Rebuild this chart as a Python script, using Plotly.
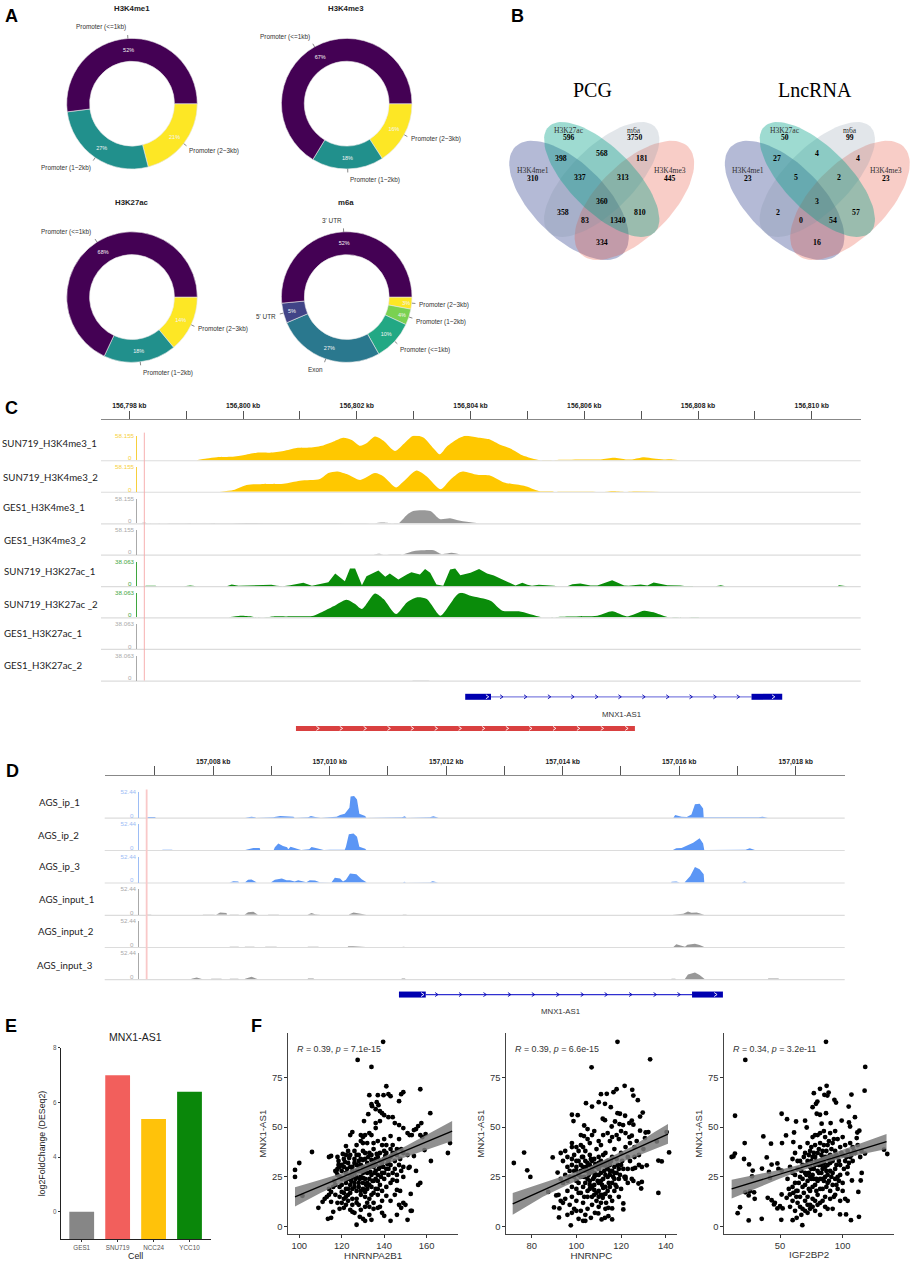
import math
import plotly.graph_objects as go

W, H = 913, 1261
SANS = 'Liberation Sans'
SERIF = 'Liberation Serif'


def fx(p):
    return p / W


def fy(p):
    return 1 - p / H


# ---- panel A: donuts (clockwise from 3 o'clock) ----
PIE_TITLES = ['H3K4me1', 'H3K4me3', 'H3K27ac', 'm6a']
PROM_LABELS = ['Promoter (2~3kb)', 'Promoter (1~2kb)', 'Promoter (<=1kb)']
M6A_LABELS = ['Promoter (2~3kb)', 'Promoter (1~2kb)', 'Promoter (<=1kb)', 'Exon', "5' UTR", "3' UTR"]
ME1_PCT = [21, 27, 52]
ME3_PCT = [16, 18, 67]
AC_PCT = [14, 18, 68]
M6A_PCT = [3, 4, 10, 27, 5, 52]
PROM_COLORS = ['#FDE725', '#21908C', '#440154']
M6A_COLORS = ['#FDE725', '#7AD151', '#22A884', '#2A788E', '#414487', '#440154']

# ---- panel B: venn counts ----
VENN_SETS = ['H3K27ac', 'm6a', 'H3K4me1', 'H3K4me3']
PCG_SET_COUNTS = [596, 3750, 310, 445]
LNC_SET_COUNTS = [50, 99, 23, 23]
PCG_OVERLAPS = [398, 568, 181, 337, 313, 360, 358, 810, 83, 1340, 334]
LNC_OVERLAPS = [27, 4, 4, 5, 2, 3, 2, 57, 0, 54, 16]

# ---- panel C: signal tracks, (kb after 156,798, signal) ----
C_ORIGIN = 156798
C_TICKS = [156798 + i for i in range(13)]
C_TICKTEXT = ['156,798 kb', '', '156,800 kb', '', '156,802 kb', '', '156,804 kb', '', '156,806 kb', '',
              '156,808 kb', '', '156,810 kb']
C_NAMES = ['SUN719_H3K4me3_1', 'SUN719_H3K4me3_2', 'GES1_H3K4me3_1', 'GES1_H3K4me3_2',
           'SUN719_H3K27ac_1', 'SUN719_H3K27ac _2', 'GES1_H3K27ac_1', 'GES1_H3K27ac_2']
C_SCALES = [58.155, 58.155, 58.155, 58.155, 38.063, 38.063, 38.063, 38.063]
SUN_ME3_1 = [(1.18, 0), (1.36, 4), (1.54, 7), (1.77, 8), (2.00, 12), (2.24, 18), (2.47, 18), (2.71, 22), (2.94, 29),
             (3.18, 30), (3.41, 35), (3.59, 44), (3.76, 53), (3.91, 48), (4.06, 34), (4.17, 40), (4.32, 56), (4.47, 46),
             (4.67, 22), (4.85, 42), (4.99, 58), (5.17, 54), (5.35, 28), (5.46, 14), (5.58, 32), (5.72, 46), (5.81, 53),
             (5.91, 58), (6.12, 54), (6.32, 50), (6.53, 36), (6.70, 28), (6.91, 12), (7.23, 0), (7.47, 0), (7.58, 1),
             (7.99, 2), (8.29, 2), (8.52, 6), (8.73, 2), (8.84, 2), (9.05, 7), (9.22, 4), (9.40, 2), (9.55, 2), (9.69, 0)]
SUN_ME3_2 = [(1.59, 0), (1.83, 4), (2.06, 16), (2.30, 18), (2.71, 19), (3.00, 26), (3.35, 30), (3.50, 44), (3.65, 48),
             (3.82, 42), (4.06, 28), (4.32, 44), (4.47, 36), (4.69, 10), (4.82, 24), (5.05, 50), (5.23, 36), (5.47, 6),
             (5.64, 28), (5.81, 46), (5.88, 48), (6.12, 40), (6.35, 38), (6.59, 22), (6.94, 14), (7.20, 2), (7.44, 1),
             (7.47, 0), (8.29, 0), (8.52, 2), (8.75, 0), (8.90, 1), (9.34, 0)]
GES_ME3_1 = [(0.18, 0), (0.22, 1), (0.3, 1), (0.34, 0), (4.26, 0), (4.47, 2), (4.64, 0), (4.73, 0), (4.88, 20), (4.99, 29),
             (5.29, 29), (5.46, 10), (5.64, 12), (5.82, 6), (6.15, 0)]
GES_ME3_2 = [(4.29, 0), (4.38, 2), (4.50, 0), (4.79, 0), (4.99, 8), (5.17, 10), (5.35, 10), (5.49, 1), (5.67, 4), (5.82, 0)]
SUN_AC_1 = [(.27, 0), (.29, .5), (.46, .5), (.48, 0), (.96, 0), (1.0, .5), (1.07, 1.2), (1.15, .4), (1.17, 0), (1.71, 0),
            (1.80, 2.6), (1.92, .5), (2.12, 1), (2.24, 1.5), (2.39, 1), (2.50, 2), (2.59, .5), (2.70, 0), (2.83, 1.5),
            (2.94, 3.6), (3.06, 5.1), (3.21, .5), (3.38, 3.6), (3.50, 6.2), (3.62, 19.5), (3.79, 7.7), (3.88, 27.2),
            (3.97, 27.2), (4.09, 1.5), (4.17, 15.4), (4.38, 24.2), (4.50, 14.4), (4.58, 19.5), (4.73, 10.3), (4.88, 18),
            (4.96, 21.6), (5.11, 18), (5.20, 26.7), (5.29, 20.6), (5.40, 2.6), (5.52, .5), (5.64, 25.7), (5.73, 27.2),
            (5.82, 17), (6.00, 20.6), (6.15, 26.7), (6.29, 19.5), (6.41, 16.4), (6.56, 10.3), (6.79, 1), (6.91, 5.1),
            (7.00, 2), (7.08, .5), (7.20, 2), (7.47, .5), (7.52, 0), (7.70, 0), (7.79, 3), (7.93, 4.1), (8.11, 1),
            (8.23, 1), (8.37, 5.1), (8.49, 9.3), (8.70, 1), (8.78, .5), (8.99, 2.6), (9.11, 1), (9.22, 5.7), (9.46, 1.5),
            (9.69, 1), (9.75, 0), (9.76, .4), (9.90, .4), (9.92, 0), (10.31, 0), (10.40, 1.5), (10.48, 0), (10.75, 0),
            (10.84, 1), (10.91, 0), (11.84, 0), (11.86, .5), (11.88, 0), (12.10, 0), (12.11, .5), (12.33, .5), (12.35, 0),
            (12.45, 0), (12.48, 1.5), (12.62, 0)]
SUN_AC_2 = [(1.74, 0), (1.95, 2.6), (2.15, 1.5), (2.24, 0), (2.44, .5), (2.53, 1.5), (2.77, 1.5), (3.24, 2.6), (3.38, 7.7),
            (3.59, 17), (3.82, 27.2), (3.97, 20.6), (4.09, 12.9), (4.32, 37), (4.47, 28.3), (4.69, 5.1), (4.88, 23),
            (5.05, 30.8), (5.23, 28.3), (5.47, 2.6), (5.64, 20.6), (5.72, 30.8), (5.79, 37), (5.85, 38), (6.0, 33.4),
            (6.35, 25.7), (6.56, 10.3), (6.85, 9.3), (7.23, .5), (7.32, 0), (7.49, 0), (7.50, .5), (7.76, 1.5), (8.23, 2.6),
            (8.49, 9.3), (8.75, 1.5), (9.05, 10.3), (9.22, 7.7), (9.46, .5), (10.02, .3), (10.03, 0)]
GES_AC_1 = []
GES_AC_2 = [(4.97, 0), (4.99, .4), (5.26, .4), (5.28, 0)]
C_TRACKS = [SUN_ME3_1, SUN_ME3_2, GES_ME3_1, GES_ME3_2, SUN_AC_1, SUN_AC_2, GES_AC_1, GES_AC_2]
C_SHAPES = ['spline', 'spline', 'spline', 'spline', 'linear', 'spline', 'linear', 'linear']
C_COLORS = ['#FFC800', '#FFC800', '#999999', '#999999', '#0A8C0A', '#0A8C0A', '#999999', '#999999']
C_AXIS_COLORS = ['#F7CF3C', '#F7CF3C', '#AAAAAA', '#AAAAAA', '#3FA63F', '#3FA63F', '#AAAAAA', '#AAAAAA']

# gene models, kb offsets
C_EXONS = [(5.906, 6.36), (10.94, 11.48)]
C_INTRON = (6.36, 10.94)
C_INTRON_ARROWS = [6.55, 6.97, 7.39, 7.80, 8.22, 8.63, 9.05, 9.47, 9.88, 10.30, 10.71]
C_EXON_ARROWS = [6.30, 11.33]
C_RED_BLOCK = (2.93, 8.89)
C_RED_ARROWS = [3.32, 3.73, 4.15, 4.57, 4.98, 5.40, 5.82, 6.23, 6.65, 7.06, 7.48, 7.90, 8.32, 8.75]

# ---- panel D: signal tracks, (kb after 157,007, signal) ----
D_ORIGIN = 157007
D_TICKS = [157007 + i for i in range(12)]
D_TICKTEXT = ['', '157,008 kb', '', '157,010 kb', '', '157,012 kb', '', '157,014 kb', '', '157,016 kb', '', '157,018 kb']
D_NAMES = ['AGS_ip_1', 'AGS_ip_2', 'AGS_ip_3', 'AGS_input_1', 'AGS_input_2', 'AGS_input_3']
IP_1 = [(-.14, 0), (-.11, 1.3), (0, 1.3), (.02, 0), (1.55, 0), (1.66, 2), (1.72, .7), (1.74, 0), (2.03, .7), (2.15, 3.4),
        (2.38, 2), (2.40, 0), (2.63, .7), (2.68, 3.4), (2.75, 1.3), (2.83, .7), (2.85, 0), (3.12, 2), (3.18, 5.4), (3.26, 8),
        (3.34, 20), (3.36, 43), (3.42, 43.7), (3.47, 37), (3.51, 8), (3.61, 3.4), (3.63, 0), (4.24, .7), (4.29, 2.7), (4.32, 0),
        (4.72, .7), (4.78, 2.7), (4.85, .7), (4.87, 0), (8.90, 0), (8.93, 5.4), (9.04, 2), (9.13, 1.3), (9.21, 6.7), (9.24, 16.8),
        (9.27, 27), (9.35, 28), (9.41, 18.8), (9.42, .7), (9.55, .7), (9.57, 0), (10.36, .7), (10.43, 2), (10.50, .7), (10.52, 0)]
IP_2 = [(.12, 0), (.14, .7), (.29, .7), (.31, 0), (1.55, 0), (1.69, 4), (1.80, 4), (1.81, 0), (2.04, 0), (2.06, 5.4),
        (2.12, 13.4), (2.20, 8), (2.27, 5.4), (2.29, 1.3), (2.33, 6.7), (2.42, 4), (2.49, 2), (2.51, 0), (2.65, 1.3), (2.69, 6),
        (2.78, 3.4), (2.88, 1.3), (2.90, 0), (3.01, .7), (3.26, .7), (3.28, 6.7), (3.33, 32), (3.41, 33.6), (3.47, 27),
        (3.51, 6.7), (3.61, 2.7), (3.63, 0), (4.04, .7), (4.18, .7), (4.20, 0), (4.24, .7), (4.29, .7), (4.31, 0),
        (8.89, 0), (8.90, .7), (8.95, 3.4), (9.04, 4), (9.13, 8.7), (9.24, 14.8), (9.35, 24), (9.41, 13.4), (9.43, 0),
        (10.13, 0), (10.14, .7), (10.21, 3.4), (10.28, .7), (10.30, 0)]
IP_3 = [(1.27, 0), (1.28, 0), (1.35, 2.7), (1.43, 2), (1.45, 0), (1.54, 0), (1.55, .7), (1.60, 5.4), (1.66, 6), (1.73, 1.3), (1.75, 0), (1.99, 0), (2.0, .7),
        (2.06, 5.4), (2.18, 8), (2.26, 4.7), (2.32, 4.7), (2.40, 2), (2.46, 4.7), (2.55, 2.7), (2.60, .7), (2.66, 4.7), (2.75, 4),
        (2.83, .7), (3.03, 0), (3.09, 9.4), (3.18, 8), (3.23, 2), (3.28, 5.4), (3.35, 18.1), (3.46, 16.8), (3.55, 6.7), (3.62, 1.3),
        (3.64, 0), (4.26, 0), (4.28, 1.3), (4.31, 0), (4.71, 0), (4.72, .7), (4.77, 2.7), (4.84, .7), (4.86, 0), (8.86, 0), (8.87, 1.3), (8.95, 2),
        (9.01, 0), (9.09, 0), (9.10, 1.3), (9.19, 13.4), (9.27, 31.6), (9.35, 27), (9.42, 16.8), (9.43, 0), (10.07, 0), (10.12, 2), (10.17, 0),
        (10.46, 0), (10.47, 1.3), (10.61, 1.3), (10.63, 0)]
INPUT_1 = [(-.15, 0), (-.14, .7), (-.07, .7), (-.05, 0), (.82, 0), (.83, .7), (1.0, .7), (1.02, 0), (1.05, 0), (1.06, .7), (1.12, 4.7), (1.23, 3.4), (1.24, 0),
           (1.28, 0), (1.29, .7), (1.43, .7), (1.45, 0), (1.54, 0), (1.55, .7), (1.60, 5.4), (1.69, 6), (1.75, 1.3), (1.77, 0), (1.94, 0), (1.95, .7), (2.12, .7),
           (2.14, 0), (2.62, 0), (2.63, .7), (2.69, 3.4), (2.75, 1.3), (2.83, .7), (2.85, 0), (3.33, 0), (3.34, 1.3), (3.41, 4.7), (3.49, 3.4), (3.61, .7),
           (3.63, 0), (4.25, 0), (4.26, .7), (4.31, .7), (4.33, 0), (8.88, 0), (9.07, 2), (9.15, 6.7), (9.21, 4), (9.30, 4.7), (9.41, 1.3), (9.43, 0)]
INPUT_2 = [(1.28, 0), (1.29, .7), (1.43, .7), (1.45, 0), (1.54, 0), (1.55, .7), (1.70, .7), (1.72, 0), (1.89, 0), (1.90, .7), (2.08, .7), (2.10, 0), (2.62, 0), (2.63, .7),
           (2.80, .7), (2.82, 0), (3.31, 0), (3.32, 1.3), (3.40, 1.7), (3.47, 1), (3.60, .7), (3.62, 0), (4.25, 0), (4.26, .7), (4.30, 0), (8.90, 0),
           (8.95, 5.4), (9.04, 2.7), (9.10, .7), (9.14, 4.7), (9.27, 6.7), (9.35, 4), (9.41, .7), (9.43, 0)]
INPUT_3 = [(.62, 0), (.63, .7), (.72, 3.4), (.80, .7), (.82, 0), (.96, 0), (.97, .7), (1.14, .7), (1.16, 0), (1.28, 0), (1.29, .7), (1.43, .7), (1.45, 0),
           (1.54, 0), (1.55, .7), (1.66, 4.7), (1.75, .7), (1.77, 0), (2.62, 0), (2.63, 1.3), (2.72, 1.3), (2.74, 0), (4.23, 0), (4.24, 1.3), (4.29, 1.3), (4.31, 0),
           (8.86, 0), (8.87, .7), (8.93, .7), (8.95, 0), (9.09, 0), (9.10, .7), (9.15, 9.4), (9.27, 13.4), (9.35, 8.7), (9.42, 1.3), (9.44, 0),
           (10.52, 0), (10.53, 1.3), (10.70, 1.3), (10.72, 0)]
D_TRACKS = [IP_1, IP_2, IP_3, INPUT_1, INPUT_2, INPUT_3]
D_COLORS = ['#5B96F5', '#5B96F5', '#5B96F5', '#999999', '#999999', '#999999']
D_AXIS_COLORS = ['#9DBDF5', '#9DBDF5', '#9DBDF5', '#AAAAAA', '#AAAAAA', '#AAAAAA']
D_SCALE = 52.44
D_EXONS = [(4.19, 4.65), (9.22, 9.75)]
D_INTRON = (4.65, 9.22)
D_INTRON_ARROWS = [4.84, 5.25, 5.67, 6.09, 6.50, 6.92, 7.34, 7.75, 8.17, 8.59, 9.0]
D_EXON_ARROWS = [4.60, 9.63]

# ---- panel E ----
E_CELLS = ['GES1', 'SNU719', 'NCC24', 'YCC10']
E_VALUES = [2, 7, 5.4, 6.4]
E_COLORS = ['#868686', '#F25F5C', '#FFC20A', '#0A870A']
E_TICKS = [2, 4, 6, 8]
E_TICKTEXT = ['0', '4', '6', '8']

# ---- panel F: (gene expression, MNX1-AS1) ----
F1_POINTS = [
    (139.5, 92.8), (127.5, 83.7), (134, 80.2), (141, 70.5), (157, 69), (133, 66), (137, 66), (142, 66.5), (143, 65.5),
    (139.7, 66), (149, 67.5), (148, 66.5), (147, 63), (136.5, 62.5), (137.3, 61), (134, 61.5), (132.5, 56.5), (134.3, 60.5),
    (136, 59), (138, 58), (139, 57), (140, 56), (142, 55), (144, 55), (130.5, 53), (138, 53), (136, 52), (136, 49.5), (145, 52),
    (147, 51), (149, 49.5), (161.7, 57), (157.5, 52), (156, 50.5), (155, 49), (154, 48.5), (151, 47), (152, 46), (153, 46),
    (133, 47), (134, 46), (124, 46), (125, 47.5), (129, 46), (131, 46), (130, 45), (129, 43), (140, 44), (143, 45.5), (147, 44),
    (158, 45), (159.5, 46.5), (157, 46), (171, 42), (159, 38.5), (170, 37), (162, 33), (154, 35.5), (151, 36), (149, 37),
    (148, 39), (146, 39), (144, 41), (141, 41), (139, 41), (137, 43), (135, 42), (132, 42), (130, 42), (127, 41), (122, 40.5),
    (106, 37.5), (100, 32), (98, 28.5), (98, 25), (101.5, 15.5), (114, 35), (115, 35.5), (118, 35), (118.5, 33), (118.5, 31),
    (118, 29), (117.5, 27.5), (117, 28), (118, 26), (109, 9.5), (111, 12.5), (112, 14), (113, 15), (115, 12.5), (114, 16),
    (115, 17.5), (114, 19), (116, 20), (117, 21), (119, 20), (120, 21), (122, 22), (116, 7.5), (113.5, 4), (115, 4.5),
    (121, 9.5), (122, 11), (124, 8.5), (126, 7), (127, 1), (128.5, 5), (130, 4), (131, 3), (133, 6), (134, 3.5), (135, 9),
    (137, 9.5), (138, 10), (139, 7), (140, 5.5), (143, 3), (146, 6), (151, 3.5), (153, 8), (152.5, 8), (149, 12), (150, 11),
    (148, 9.5), (147, 11), (147.5, 18), (146, 18.5), (145, 16), (143, 13), (141, 15.5), (139, 13), (137, 16), (135, 17),
    (133, 14), (131, 15), (129, 16), (127, 14), (125, 14), (123, 13), (121, 14), (119, 15), (117, 16), (152.5, 16.5), (156, 21),
    (157, 22), (155, 28), (152, 30), (151.5, 29.5), (149, 25), (146, 23), (144, 23.5), (143, 22), (141, 20), (140, 24),
    (120, 28), (121, 30), (122, 27), (123, 32), (124, 26), (125, 30), (126, 34), (127, 28), (128, 36), (129, 25), (129, 31),
    (130, 38), (131, 28), (131, 34), (132, 22), (133, 30), (133, 37), (134, 26), (135, 33), (135, 39), (136, 28), (136, 24),
    (137, 35), (138, 30), (138, 21), (139, 27), (140, 34), (141, 37), (142, 29), (143, 35), (144, 27), (145, 33), (146, 36),
    (147, 31), (148, 28), (122, 36), (124, 36), (126, 38), (128, 33), (130, 22), (132, 19), (134, 20), (136, 19), (128, 20),
    (126, 22), (124, 21), (127, 25), (125, 25), (130, 27), (132, 32), (134, 36), (137, 26), (139, 32), (141, 29), (140, 38),
    (143, 39), (120, 24), (122, 19), (119, 30), (121, 34), (123, 38), (125, 19), (128, 28), (133, 24), (130, 30), (127, 31),
    (135, 30), (132, 27), (129, 34), (126, 27), (124, 30), (123, 24), (121, 17), (124, 17), (127, 18), (130, 19), (132, 12),
    (128, 11), (125, 11), (123, 16), (135, 12), (137, 23), (142, 33), (145, 37), (138, 37), (134, 31), (131, 24), (136, 34),
    (120.5, 36.5), (121.5, 32.5), (122.5, 29), (123.5, 34.5), (125, 28), (126, 32), (127, 36), (128, 30.5), (128.5, 24),
    (129.5, 28), (130, 33.5), (131, 37), (131.5, 21), (132, 29.5), (132.5, 35), (133.5, 27.5), (134, 33.5), (134.5, 23),
    (135.5, 27), (136, 31), (136.5, 36.5), (137.5, 29), (138, 33), (138.5, 25), (139.5, 30), (140, 27), (140.5, 35.5), (141.5, 31.5),
    (142, 26), (143, 31), (144, 37), (145, 29), (146, 26), (147.5, 34), (149, 30), (126.5, 24), (128, 22), (130, 24.5), (133, 21),
    (135, 23), (124.5, 23), (122, 24), (120, 31), (119, 25), (126, 20), (129, 18), (131, 17.5), (134, 16), (137, 19), (139, 18),
    (127, 12), (125, 7.5), (129, 8.5), (131, 10), (133, 10), (120, 12), (118, 12), (119, 9), (123, 19), (122, 15), (116.5, 23), (120, 17.5),
]
F1_LINE_X = [98, 172]
F1_LINE_Y = [15, 48]
F1_RIB_X = [98, 110, 120, 130, 135, 140, 150, 160, 172]
F1_RIB_LO = [10.2, 17.0, 22.0, 27.0, 29.3, 31.3, 35.0, 38.8, 43.0]
F1_RIB_HI = [19.8, 23.6, 26.8, 30.8, 33.1, 35.3, 40.4, 46.0, 53.0]

F2_POINTS = [
    (72, 32), (76.6, 37.2), (78, 28.3), (79.4, 25), (87.4, 17.5), (89.4, 34.8), (91.6, 27.2), (91, 15.7), (90, 9.7), (92.4, 9.2),
    (92.2, 4.7), (97.5, .7), (98, 56.2), (100.6, 56), (98.7, 53), (103.5, 50.8), (105, 49), (102, 46), (103.4, 45.5), (106.8, 80),
    (104.3, 62), (107, 60.3), (110, 62.5), (118.4, 92.8), (133, 84), (121.6, 70.7), (118, 69), (116.6, 67.5), (113.6, 66.7),
    (111, 66.5), (125, 68.7), (125.5, 65.8), (127.5, 63.5), (112.8, 61.7), (115.4, 60), (118.4, 57), (119.5, 56.7), (121.8, 55.7),
    (129.7, 57.3), (128.5, 55.3), (124.8, 53.3), (123.7, 52), (111.8, 54.2), (112.8, 53.5), (117.3, 52.8), (120.9, 51), (119.3, 51.5),
    (125.5, 51.2), (115.8, 50.3), (128.5, 48.2), (132.2, 47.5), (131, 47.3), (140.4, 47.5), (130.7, 44.5), (136, 42.8), (124.8, 45.7),
    (123.7, 45), (141.5, 37.3), (136.7, 33.2), (138.2, 32.8), (131.5, 30.8), (129.3, 30), (125.2, 29), (126.3, 29.5), (124.8, 24),
    (125.5, 23), (129.3, 22.5), (127.8, 21.7), (129, 19.2), (136.7, 17), (121, 11.7), (121, 8.7), (116, 3.7), (114.3, 5.3),
    (111.3, 3.7), (112.8, 4.5), (108.3, 7), (109.8, 6.7), (116, 9.2), (114.3, 9.5), (111.8, 14.5), (113.3, 12), (106.5, 4.5),
    (93, 37), (94, 33), (95, 38), (96, 30), (96, 35), (97, 25), (98, 40), (98, 31), (99, 36), (100, 28), (100, 33), (100, 23),
    (101, 38), (101, 26), (102, 31), (102, 41), (103, 20), (103, 35), (104, 28), (104, 38), (105, 24), (105, 32), (106, 36),
    (106, 42), (107, 20), (107, 29), (108, 34), (108, 25), (109, 39), (109, 30), (110, 22), (110, 35), (111, 27), (111, 41),
    (112, 31), (112, 24), (113, 37), (113, 20), (114, 29), (114, 33), (115, 26), (115, 43), (116, 35), (116, 22), (117, 30),
    (117, 39), (118, 27), (118, 34), (119, 24), (119, 44), (120, 31), (120, 37), (121, 29), (122, 40), (122, 25), (123, 35),
    (110, 29), (106, 27), (104, 33), (112, 36), (108, 30), (116, 28), (114, 25), (103, 30), (99, 28), (101, 33),
    (92, 16), (93, 13), (94, 12), (95, 14), (96, 18), (97, 11), (98, 15), (99, 9), (100, 13), (101, 17), (102, 8), (103, 12),
    (104, 6), (105, 15), (105, 9), (106, 19), (107, 11), (108, 16), (109, 13), (110, 18), (110, 10), (111, 12), (112, 16), (113, 9),
    (114, 18), (115, 15), (116, 13), (117, 18), (118, 20), (119, 15), (120, 19), (122, 24), (123, 22), (101, 4), (100, 8), (98, 7),
    (103, 3), (104, 3), (96, 6), (98, 42), (100, 40), (103, 40), (105, 44), (107, 46), (108, 48), (110, 43), (112, 46), (114, 47),
    (116, 45), (118, 46), (120, 48), (122, 47), (124, 42), (126, 40), (127, 43), (128, 36), (130, 39), (126, 35), (128, 31),
    (109, 26), (107, 33), (105, 28), (113, 32), (111, 23), (115, 31), (117, 24), (119, 29), (102, 25), (106, 23), (108, 21), (110, 32),
    (97, 28), (98, 34), (99, 25), (100, 30), (101, 22), (102, 28), (102.5, 35), (103.5, 25), (104.5, 30), (105.5, 26), (106, 31),
    (106.5, 34), (107.5, 24), (108, 27), (108.5, 31.5), (109.5, 23), (110, 26), (110.5, 30.5), (111, 33), (111.5, 21), (112.5, 28),
    (113, 26), (113.5, 30), (114.5, 22), (115, 28), (115.5, 33), (116.5, 25), (117, 27), (117.5, 21), (118.5, 31), (119.5, 26),
    (120.5, 33), (121.5, 25), (123, 29), (124, 33), (100, 19), (102, 17), (103.5, 15), (105, 18), (107, 15), (109, 17), (111, 16),
    (113, 16.5), (115, 20), (104, 22), (106, 21), (108, 18.5), (110, 15), (112, 19.5), (98, 20), (96, 23), (95, 26), (94, 22), (93, 24),
]
F2_LINE_X = [71.5, 141]
F2_LINE_Y = [11.5, 46.5]
F2_RIB_X = [71.5, 85, 95, 105, 110, 115, 125, 135, 141]
F2_RIB_LO = [6.0, 15.0, 20.5, 25.6, 28.1, 30.4, 34.5, 39.0, 41.7]
F2_RIB_HI = [17.0, 22.0, 25.7, 29.6, 32.1, 34.8, 40.3, 47.5, 51.5]

F3_POINTS = [
    (86.7, 92.8), (22.3, 83.7), (118, 80.2), (117.5, 68.3), (87.2, 70.7), (81.9, 69.2), (77, 67), (88.8, 67.3), (85.4, 66.2),
    (87.8, 65.8), (93.4, 63.7), (94.7, 62.3), (107, 66.3), (79.8, 62.8), (78.7, 61.7), (76, 60), (104.8, 60.3), (79.3, 56.7),
    (81.9, 56.2), (86.7, 57), (51.3, 56.7), (55.6, 54), (14.1, 55.7), (62.8, 52.8), (70, 53.2), (109.8, 55), (99.2, 53.3), (105, 52.3),
    (105.9, 50.3), (83.2, 51.7), (90.4, 52), (71.3, 49.8), (36.7, 45.3), (61.2, 47.3), (54.8, 45.8), (42.8, 41.7), (51.6, 42), (60.6, 42.5),
    (21.8, 42), (12.8, 35.3), (14, 36.7), (11.4, 35), (21.3, 34), (25.3, 31.3), (28.2, 28.2), (27.7, 25.3), (35.6, 29.2), (39.4, 34.8),
    (43.3, 31.2), (41.2, 27.5), (42, 24.5), (47.9, 31.8), (48.7, 29), (51.3, 28.2), (22.3, 17.3), (26, 17.8), (29.3, 17.3), (25, 15.7),
    (29.8, 14), (18.1, 9.8), (16.2, 6.8), (25, 3.2), (35.4, 4), (51, 3.5), (60.1, 3.3), (63.3, 4.5), (67.8, .8), (47.9, 9.2), (52.1, 9.2),
    (50, 10.3), (40.2, 14.5), (43.3, 13.3), (45.9, 12), (45.2, 11.2), (55.3, 14.5), (57.9, 16.2), (51.3, 16.2), (60.6, 17), (97.9, 6.2),
    (102.7, 6.2), (106.6, 3.3), (113, 5), (112.5, 17.5), (114.4, 23.2), (107.4, 23.2), (103.7, 26.7), (115.2, 27), (135.6, 36.5),
    (133, 38.7), (117.8, 36.7), (115, 38), (113.3, 48.2), (111.7, 47.3), (111.2, 44.5),
    (56, 24), (58, 30), (60, 27), (60, 34), (62, 22), (62, 37), (64, 29), (64, 33), (66, 25), (66, 40), (68, 31), (68, 20), (70, 37),
    (70, 27), (72, 42), (72, 33), (72, 23), (74, 30), (74, 38), (74, 18), (76, 35), (76, 26), (76, 45), (78, 41), (78, 31), (78, 21),
    (80, 37), (80, 28), (80, 46), (82, 33), (82, 24), (82, 42), (84, 38), (84, 29), (84, 19), (86, 35), (86, 45), (86, 25), (88, 31),
    (88, 41), (88, 22), (90, 36), (90, 28), (90, 47), (92, 33), (92, 42), (92, 21), (94, 38), (94, 29), (94, 48), (96, 35), (96, 44),
    (96, 25), (98, 40), (98, 31), (100, 36), (100, 45), (100, 22), (102, 33), (102, 41), (104, 38), (104, 30), (106, 42), (106, 35),
    (108, 40), (108, 33), (110, 37), (112, 41), (114, 35), (64, 12), (66, 15), (68, 9), (70, 13), (72, 7), (74, 11), (76, 14), (78, 8),
    (80, 16), (80, 11), (82, 6), (84, 13), (86, 15), (88, 9), (90, 18), (92, 9), (94, 16), (96, 19), (98, 13), (100, 18), (102, 14),
    (104, 13), (58, 10), (62, 8), (57, 19), (64, 18), (67, 6), (75, 24), (73, 27), (79, 33), (83, 27), (85, 32), (87, 28), (89, 34),
    (77, 29), (81, 31), (75, 33), (69, 35), (91, 25), (93, 35), (95, 31), (71, 31), (83, 36), (85, 23), (79, 24), (73, 36),
    (60, 20), (62, 26), (63, 18), (65, 22), (66, 33), (67, 28), (68, 24), (69, 17), (70, 21), (71, 26), (72, 15), (73, 19), (74, 25),
    (75, 29), (75, 40), (76, 20), (77, 37), (77, 24), (78, 35), (79, 18), (80, 23), (81, 27), (81, 39), (82, 19), (83, 31), (84, 34),
    (84, 24), (85, 41), (86, 30), (87, 20), (87, 38), (88, 26), (88, 35), (89, 23), (90, 32), (91, 39), (92, 27), (93, 44), (94, 24), (95, 36),
    (97, 33), (98, 26), (99, 37), (101, 29), (103, 35), (105, 32), (107, 36), (109, 38), (74, 9), (76, 10), (82, 12), (86, 10), (78, 13),
    (72, 11), (70, 8), (66, 10), (60, 13), (63, 15), (90, 14), (93, 15), (95, 21), (97, 23), (89, 43), (85, 48), (82, 47), (78, 46),
]
F3_LINE_X = [11.4, 135]
F3_LINE_Y = [19, 42.7]
F3_RIB_X = [11.4, 30, 50, 65, 75, 85, 100, 120, 135]
F3_RIB_LO = [14.2, 19.2, 24.2, 27.7, 29.9, 31.9, 34.4, 37.0, 39.0]
F3_RIB_HI = [23.6, 25.9, 28.6, 31.0, 33.0, 35.2, 38.6, 43.0, 46.5]
F_NAMES = ['HNRNPA2B1', 'HNRNPC', 'IGF2BP2']
F_STATS = ['<i>R</i> = 0.39, <i>p</i> = 7.1e-15', '<i>R</i> = 0.39, <i>p</i> = 6.6e-15', '<i>R</i> = 0.34, <i>p</i> = 3.2e-11']

fig = go.Figure()
annotations = []
shapes = []


def note(text, x, y, size=7, color='#222222', family=SANS, anchor='center', weight=None, **kw):
    font = dict(size=size, color=color, family=family)
    if weight:
        font['weight'] = weight
    annotations.append(dict(text=text, x=fx(x), y=fy(y), xref='paper', yref='paper', showarrow=False, font=font,
                            xanchor=anchor, yanchor='middle', borderpad=0, **kw))


# letters
for letter, lx, ly in [('A', 11, 12), ('B', 517, 12), ('C', 11, 405), ('D', 12, 769), ('E', 11, 1025), ('F', 256, 1025)]:
    note(letter, lx, ly, size=18, color='black', weight=700)

# ---- A ----
R_PIE = 65.5
PIE_CENTERS = [(132, 100), (346.7, 100), (132, 294), (346.7, 294)]
PIE_VALUES = [ME1_PCT, ME3_PCT, AC_PCT, M6A_PCT]
PIE_COLORS = [PROM_COLORS, PROM_COLORS, PROM_COLORS, M6A_COLORS]
PIE_LABELS = [PROM_LABELS, PROM_LABELS, PROM_LABELS, M6A_LABELS]
PIE_LABEL_POS = [
    [(214, 147), (66, 164.3), (100.7, 22.7)],
    [(436.3, 135.7), (375, 177), (284.7, 33)],
    [(223, 325.7), (168.3, 370), (66, 229)],
    [(444, 301.7), (440.7, 318.7), (424.7, 347), (315, 367), (266, 313.7), (332, 216.7)],
]
PIE_TITLE_Y = [5, 5, 199, 199]
for (cx, cy), vals, cols, labs, pos, title, ty in zip(PIE_CENTERS, PIE_VALUES, PIE_COLORS, PIE_LABELS, PIE_LABEL_POS,
                                                      PIE_TITLES, PIE_TITLE_Y):
    fig.add_trace(go.Pie(values=vals, sort=False, direction='clockwise', rotation=90, hole=0.65,
                         marker=dict(colors=cols, line=dict(color='#E8E8E8', width=0.6)),
                         text=[f'{v}%' for v in vals], textinfo='text', textposition='inside',
                         insidetextorientation='horizontal', insidetextfont=dict(size=5.5, color='#F4F4F4', family=SANS),
                         domain=dict(x=[fx(cx - R_PIE), fx(cx + R_PIE)], y=[fy(cy + R_PIE), fy(cy - R_PIE)]),
                         hoverinfo='skip', showlegend=False))
    note(title, cx - 0.5, ty, size=7.8, color='#222222', weight=700)
    total = sum(vals)
    run = 0
    for v, lab, (lx, ly) in zip(vals, labs, pos):
        ang = 2 * math.pi * (run + v / 2) / total
        run += v
        shapes.append(dict(type='line', xref='paper', yref='paper', line=dict(color='#555555', width=0.7),
                           x0=fx(cx + R_PIE * math.cos(ang)), y0=fy(cy + R_PIE * math.sin(ang)),
                           x1=fx(cx + (R_PIE + 3.5) * math.cos(ang)), y1=fy(cy + (R_PIE + 3.5) * math.sin(ang))))
        note(lab, lx, ly, size=6.4, color='#333333')

# ---- B ----
VENN_Y = 176
VENN_SHAPES = [(-32.7, 21, 76, 37, 45, '#3B4992', .38), (32.7, 21, 76, 37, -45, '#E64B35', .28),
               (0, 0, 75, 32, -45, '#7A8CA0', .22), (0, 0, 75, 32, 45, '#00A087', .38)]
ANGLES = [2 * math.pi * i / 90 for i in range(91)]
SET_OFFSETS = [(-32.3, -49.5), (32.3, -49.5), (-69, -8.5), (68.7, -8.5)]
OVERLAP_OFFSETS = [(-40.7, -21.3), (0, -25.7), (40.7, -21.3), (-21.7, -2), (21.7, -2), (0, 22), (-39, 32.7), (38.7, 32.7),
                   (-16.3, 41.3), (16, 41.3), (0, 63)]
for title, cx, set_counts, overlaps in [('PCG', 601.7, PCG_SET_COUNTS, PCG_OVERLAPS),
                                        ('LncRNA', 817.3, LNC_SET_COUNTS, LNC_OVERLAPS)]:
    for dx, dy, a, b, rot, col, alpha in VENN_SHAPES:
        r = math.radians(rot)
        xs = [cx + dx + a * math.cos(t) * math.cos(r) - b * math.sin(t) * math.sin(r) for t in ANGLES]
        ys = [VENN_Y + dy + a * math.cos(t) * math.sin(r) + b * math.sin(t) * math.cos(r) for t in ANGLES]
        fig.add_trace(go.Scatter(x=xs, y=ys, xaxis='x7', yaxis='y19', mode='lines', line=dict(width=0), fill='toself',
                                 fillcolor=col, opacity=alpha, hoverinfo='skip', showlegend=False))
    note(title, cx - 9.5 if title == 'PCG' else cx - 2.3, 86, size=20, color='black', family=SERIF)
    for name, count, (ox, oy) in zip(VENN_SETS, set_counts, SET_OFFSETS):
        note(name, cx + ox, VENN_Y + oy, size=7.6, color='#333333', family=SERIF)
        note(str(count), cx + ox, VENN_Y + oy + 7.5, size=7.6, color='black', family=SERIF, weight=700)
    for val, (ox, oy) in zip(overlaps, OVERLAP_OFFSETS):
        note(str(val), cx + ox, VENN_Y + oy, size=7.8, color='black', family=SERIF, weight=700)


# ---- C / D shared track drawing ----
def xaxis_tracks(x0, x1, rng, axis_y, ticks, text):
    return dict(domain=[fx(x0), fx(x1)], range=rng, anchor='free', position=fy(axis_y), side='top', tickmode='array',
                tickvals=ticks, ticktext=text, ticks='outside', ticklen=8.5, tickwidth=1, tickcolor='#555555', showline=True,
                linecolor='#888888', linewidth=1, showgrid=False, zeroline=False,
                tickfont=dict(size=6.8, family=SANS, color='#222222', weight=700))


def add_track(ax_n, xref, origin, pairs, color, axis_color, scale, base_px, height, axis_px, x_end, shape='linear'):
    if pairs:
        xs = [origin + p[0] for p in pairs]
        ys = [p[1] for p in pairs]
    else:
        xs, ys = [origin], [0]
    fig.add_trace(go.Scatter(x=xs, y=ys, xaxis=xref, yaxis=f'y{ax_n}', mode='lines',
                             line=dict(width=0, color=color, shape=shape, smoothing=0.7),
                             fill='tozeroy', fillcolor=color, hoverinfo='skip', showlegend=False))
    layout_axes[f'yaxis{ax_n}'] = dict(domain=[fy(base_px), fy(base_px - height)], range=[0, scale], anchor='free',
                                       position=fx(axis_px), tickmode='array', tickvals=[scale], ticktext=[str(scale)],
                                       ticks='inside', ticklen=4, tickwidth=1, tickcolor=axis_color, showline=True,
                                       linecolor=axis_color, linewidth=1, showgrid=False, zeroline=False,
                                       tickfont=dict(size=6.2, family=SANS, color=axis_color), ticklabelstandoff=1)
    note('0', axis_px - 3.5, base_px - 2.7, size=6.2, color=axis_color, anchor='right')
    shapes.append(dict(type='line', xref='paper', yref='paper', x0=fx(x_end[0]), x1=fx(x_end[1]), y0=fy(base_px + 0.5),
                       y1=fy(base_px + 0.5), line=dict(color='#DCDCDC', width=1.2), layer='below'))


def add_chevrons(xref, origin, pos, y_px, color):
    # open '>' glyphs as short polylines, 2 px tall either side of the gene line
    xs, ys = [], []
    for v in pos:
        xs += [origin + v - 0.03, origin + v + 0.02, origin + v - 0.03, None]
        ys += [y_px - 2, y_px, y_px + 2, None]
    fig.add_trace(go.Scatter(x=xs, y=ys, xaxis=xref, yaxis='y19', mode='lines', line=dict(color=color, width=0.9),
                             hoverinfo='skip', showlegend=False))


def add_gene(xref, origin, exons, intron, intron_arrows, exon_arrows, y_px, intron_col):
    fig.add_trace(go.Scatter(x=[origin + v for v in intron], y=[y_px, y_px], xaxis=xref, yaxis='y19', mode='lines',
                             line=dict(color=intron_col, width=1.2), hoverinfo='skip', showlegend=False))
    for a, b in exons:
        fig.add_trace(go.Scatter(x=[origin + a, origin + b], y=[y_px, y_px], xaxis=xref, yaxis='y19', mode='lines',
                                 line=dict(color='#0000B0', width=6), hoverinfo='skip', showlegend=False))
    add_chevrons(xref, origin, intron_arrows, y_px, '#0000B0')
    add_chevrons(xref, origin, exon_arrows, y_px, 'white')


layout_axes = {}
layout_axes['xaxis'] = xaxis_tracks(101, 860.7, [156797.502, 156810.86], 416.7, C_TICKS, C_TICKTEXT)
layout_axes['xaxis2'] = xaxis_tracks(104.7, 844.7, [157006.14, 157018.84], 773.3, D_TICKS, D_TICKTEXT)

C_BASES = [457.7, 489.3, 521, 552.3, 584, 615.3, 647, 678.7]
C_LABEL_Y = [440, 474.3, 505, 537.3, 569.3, 602, 630.7, 662.7]
C_LABEL_X = [1, 2, 2, 2.7, 2.7, 2.7, 2.7, 2.7]
for i in range(8):
    add_track(i + 1, 'x', C_ORIGIN, C_TRACKS[i], C_COLORS[i], C_AXIS_COLORS[i], C_SCALES[i], C_BASES[i], 24.7, 136.3,
              (101, 860.7), C_SHAPES[i])
    note(C_NAMES[i], C_LABEL_X[i], C_LABEL_Y[i], size=9.7, color='#222222', family='Lato', anchor='left')
shapes.append(dict(type='line', xref='x', yref='paper', x0=C_ORIGIN + 0.264, x1=C_ORIGIN + 0.264, y0=fy(430), y1=fy(678.7),
                   line=dict(color='#F6A8A8', width=0.9)))
add_gene('x', C_ORIGIN, C_EXONS, C_INTRON, C_INTRON_ARROWS, C_EXON_ARROWS, 695, '#8080E0')
fig.add_trace(go.Scatter(x=[C_ORIGIN + v for v in C_RED_BLOCK], y=[726.7, 726.7], xaxis='x', yaxis='y19', mode='lines',
                         line=dict(color='#D94040', width=5), hoverinfo='skip', showlegend=False))
add_chevrons('x', C_ORIGIN, C_RED_ARROWS, 726.7, 'white')
note('MNX1-AS1', 621.7, 712.3, size=7.8, color='#333333')

D_BASES = [816.3, 848.7, 881.3, 913.7, 946, 978.3]
D_LABEL_Y = [800.5, 834, 865, 897.5, 930, 964]
D_LABEL_X = [38, 37, 38, 38, 37, 36]
for i in range(6):
    add_track(i + 9, 'x2', D_ORIGIN, D_TRACKS[i], D_COLORS[i], D_AXIS_COLORS[i], D_SCALE, D_BASES[i], 26, 138.3, (104.7, 844.7))
    note(D_NAMES[i], D_LABEL_X[i], D_LABEL_Y[i], size=9.7, color='#222222', family='Lato', anchor='left')
shapes.append(dict(type='line', xref='x2', yref='paper', x0=D_ORIGIN - 0.14, x1=D_ORIGIN - 0.14, y0=fy(788), y1=fy(978.3),
                   line=dict(color='#F9C8C8', width=1.8)))
add_gene('x2', D_ORIGIN, D_EXONS, D_INTRON, D_INTRON_ARROWS, D_EXON_ARROWS, 993.7, '#3030D0')
note('MNX1-AS1', 560.7, 1011, size=7.8, color='#333333')

# ---- E ----
fig.add_trace(go.Bar(x=list(range(4)), y=E_VALUES, marker=dict(color=E_COLORS, line=dict(width=0)), width=0.69, xaxis='x3',
                     yaxis='y15', hoverinfo='skip', showlegend=False))
layout_axes['xaxis3'] = dict(domain=[fx(60.7), fx(210.7)], range=[-0.585, 3.59], anchor='y15', tickmode='array',
                             tickvals=list(range(4)), ticktext=E_CELLS, ticks='outside', ticklen=2, tickcolor='#333333',
                             showline=True, linecolor='#222222', linewidth=1, showgrid=False, zeroline=False,
                             tickfont=dict(size=6.3, family=SANS, color='#555555'),
                             title=dict(text='Cell', font=dict(size=8.8, family=SANS, color='#222222'), standoff=0))
layout_axes['yaxis15'] = dict(domain=[fy(1239), fy(1047.3)], range=[1, 8], anchor='x3', tickmode='array', tickvals=E_TICKS,
                              ticktext=E_TICKTEXT, ticks='outside', ticklen=2, tickcolor='#333333', showline=True,
                              linecolor='#222222', linewidth=1, showgrid=False, zeroline=False,
                              tickfont=dict(size=6.3, family=SANS, color='#555555'),
                              title=dict(text='log2FoldChange (DESeq2)', font=dict(size=8.8, family=SANS, color='#222222'), standoff=5))
note('MNX1-AS1', 135, 1036.7, size=10.5, color='#222222')

# ---- F ----
F_SETS = [
    (F1_POINTS, F1_LINE_X, F1_LINE_Y, F1_RIB_X, F1_RIB_LO, F1_RIB_HI, 288, 458.3, [94.7, 174.9], [100, 120, 140, 160], 296),
    (F2_POINTS, F2_LINE_X, F2_LINE_Y, F2_RIB_X, F2_RIB_LO, F2_RIB_HI, 506, 676.7, [68.5, 144.9], [80, 100, 120, 140], 514),
    (F3_POINTS, F3_LINE_X, F3_LINE_Y, F3_RIB_X, F3_RIB_LO, F3_RIB_HI, 724, 894.3, [5.3, 141.2], [50, 100], 732),
]
for k, (pts, lx, ly, rx, rlo, rhi, x0, x1, xr, xt, sx) in enumerate(F_SETS):
    xa, ya = f'x{4 + k}', f'y{16 + k}'
    fig.add_trace(go.Scatter(x=[p[0] for p in pts], y=[p[1] for p in pts], xaxis=xa, yaxis=ya, mode='markers',
                             marker=dict(size=4.8, color='black', line=dict(width=0)), hoverinfo='skip', showlegend=False))
    fig.add_trace(go.Scatter(x=rx + rx[::-1], y=rlo + rhi[::-1], xaxis=xa, yaxis=ya, mode='lines', line=dict(width=0),
                             fill='toself', fillcolor='rgba(125,125,125,0.85)', hoverinfo='skip', showlegend=False))
    fig.add_trace(go.Scatter(x=lx, y=ly, xaxis=xa, yaxis=ya, mode='lines', line=dict(color='black', width=1.4),
                             hoverinfo='skip', showlegend=False))
    axis_style = dict(ticks='outside', ticklen=2.5, tickcolor='#333333', showline=True, linecolor='#444444', linewidth=1.3,
                      showgrid=False, zeroline=False, tickfont=dict(size=9.4, family=SANS, color='#333333'))
    layout_axes[f'xaxis{4 + k}'] = dict(domain=[fx(x0), fx(x1)], range=xr, anchor=ya, tickmode='array', tickvals=xt,
                                        title=dict(text=F_NAMES[k], font=dict(size=9.8, family=SANS, color='#333333'), standoff=1),
                                        **axis_style)
    layout_axes[f'yaxis{16 + k}'] = dict(domain=[fy(1234), fy(1032.7)], range=[-3.67, 97], anchor=xa, tickmode='array',
                                         tickvals=[0, 25, 50, 75],
                                         title=dict(text='MNX1-AS1', font=dict(size=9.6, family=SANS, color='#333333'), standoff=3),
                                         **axis_style)
    note(F_STATS[k], sx, 1048, size=8.9, color='#333333', anchor='left')

# pixel overlay used by the venn ellipses and gene models
layout_axes['xaxis7'] = dict(domain=[0, 1], range=[0, W], visible=False, anchor='y19', fixedrange=True)
layout_axes['yaxis19'] = dict(domain=[0, 1], range=[H, 0], visible=False, anchor='x7', fixedrange=True)

fig.update_layout(width=W, height=H, margin=dict(l=0, r=0, t=0, b=0, pad=0), paper_bgcolor='white', plot_bgcolor='rgba(0,0,0,0)',
                  showlegend=False, annotations=annotations, shapes=shapes, bargap=0.3, **layout_axes)
fig.write_html('out.html', config={'displayModeBar': False}, post_script="document.body.style.margin='0';")
